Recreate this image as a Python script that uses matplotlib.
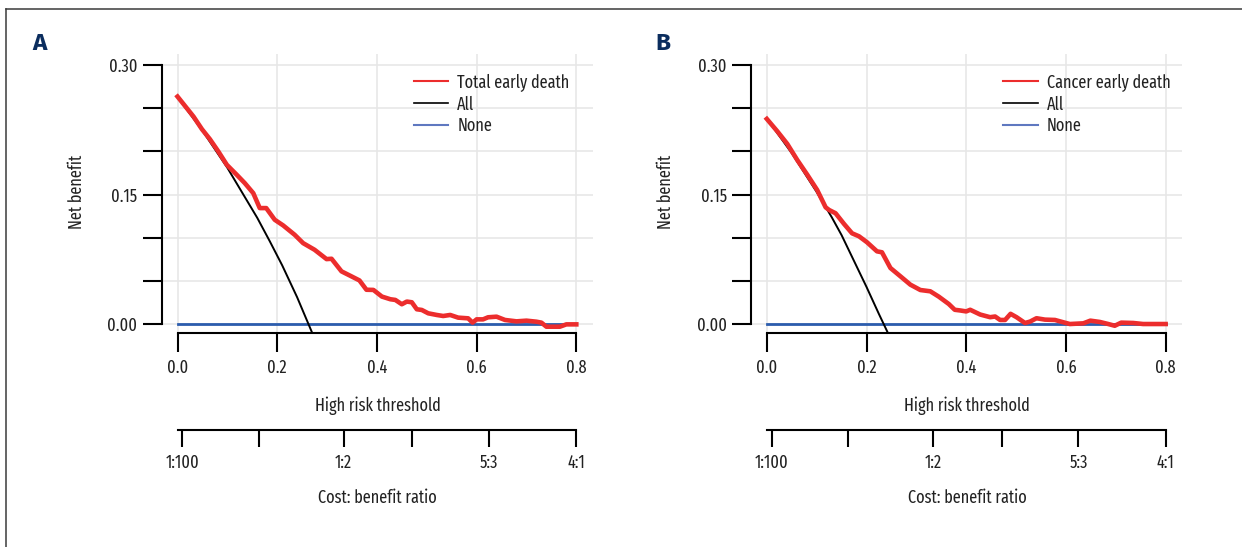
import matplotlib
matplotlib.use("Agg")
import matplotlib.pyplot as plt
from matplotlib.lines import Line2D

plt.rcParams["font.family"] = ["Fira Sans Extra Condensed", "Fira Sans Condensed", "DejaVu Sans"]
plt.rcParams["font.size"] = 12.7

# ---- data ----
thr_a = [0.0, 0.032, 0.049, 0.065, 0.082, 0.099, 0.119, 0.135, 0.152, 0.165,
         0.178, 0.195, 0.212, 0.235, 0.252, 0.275, 0.299, 0.309, 0.329, 0.349,
         0.365, 0.379, 0.393, 0.41, 0.427, 0.437, 0.45, 0.46, 0.47, 0.48,
         0.49, 0.503, 0.52, 0.533, 0.547, 0.563, 0.583, 0.592, 0.6, 0.613,
         0.623, 0.64, 0.657, 0.68, 0.7, 0.72, 0.73, 0.74, 0.767, 0.78, 0.8]
nb_a = [0.2635, 0.2404, 0.2257, 0.2141, 0.1998, 0.1844, 0.1728, 0.1632, 0.1516, 0.1343,
        0.1343, 0.1208, 0.1142, 0.1034, 0.0937, 0.0860, 0.0752, 0.0756, 0.0610, 0.0552,
        0.0505, 0.0397, 0.0395, 0.0318, 0.0287, 0.0279, 0.0229, 0.0260, 0.0252, 0.0171,
        0.0163, 0.0124, 0.0105, 0.0093, 0.0105, 0.0074, 0.0066, 0.0016, 0.0054, 0.0054,
        0.0078, 0.0085, 0.0047, 0.0031, 0.0039, 0.0027, 0.0016, -0.0031, -0.0031, -0.0004, -0.0004]
all_thr_a = [0.0, 0.05, 0.10, 0.13, 0.16, 0.185, 0.21, 0.24, 0.27]
all_nb_a = [0.263, 0.224, 0.181, 0.152, 0.123, 0.096, 0.068, 0.031, -0.010]

thr_b = [0.0, 0.021, 0.041, 0.061, 0.081, 0.101, 0.118, 0.125, 0.138, 0.155,
         0.171, 0.185, 0.201, 0.221, 0.231, 0.248, 0.268, 0.288, 0.308, 0.328,
         0.345, 0.365, 0.377, 0.388, 0.4, 0.408, 0.428, 0.448, 0.458, 0.468,
         0.478, 0.489, 0.501, 0.518, 0.528, 0.541, 0.558, 0.578, 0.595, 0.608,
         0.635, 0.649, 0.668, 0.685, 0.698, 0.711, 0.735, 0.755, 0.8]
nb_b = [0.2376, 0.2233, 0.2087, 0.1901, 0.1731, 0.1553, 0.1352, 0.1321, 0.1283, 0.1159,
        0.1051, 0.1016, 0.0947, 0.0842, 0.0831, 0.0649, 0.0553, 0.0456, 0.0394, 0.0379,
        0.0317, 0.0232, 0.0165, 0.0157, 0.0146, 0.0165, 0.0110, 0.0079, 0.0087, 0.0047,
        0.0047, 0.0118, 0.0079, 0.0012, 0.0028, 0.0067, 0.0051, 0.0047, 0.0020, 0.0,
        0.0008, 0.0039, 0.0024, 0.0, -0.0020, 0.0016, 0.0012, 0.0, 0.0]
all_thr_b = [0.0, 0.05, 0.10, 0.13, 0.15, 0.175, 0.20, 0.225, 0.243]
all_nb_b = [0.238, 0.198, 0.153, 0.124, 0.103, 0.073, 0.043, 0.0115, -0.0104]

none_thr = [0.0, 0.8]
none_nb = [0.0, 0.0]

x_ticks = [0.0, 0.2, 0.4, 0.6, 0.8]
y_ticks = [0.0, 0.05, 0.10, 0.15, 0.20, 0.25, 0.30]
y_labels = ["0.00", "", "", "0.15", "", "", "0.30"]
cb_ticks = [0.0099, 0.163, 0.333, 0.471, 0.625, 0.8]
cb_labels = ["1:100", "", "1:2", "", "5:3", "4:1"]

RED = "#ec2d2d"
BLUE = "#2b5cad"
NAVY = "#0b2d5e"
GRID = "#e6e6e6"
TXT = "#222222"


def draw_panel(ax, thr, nb, all_thr, all_nb, model_label):
    ax.set_xlim(-0.0317, 0.8335)
    ax.set_ylim(-0.0104, 0.3128)
    ax.set_xticks(x_ticks)
    ax.set_xticklabels([f"{t:.1f}" for t in x_ticks])
    ax.set_yticks(y_ticks)
    ax.set_yticklabels(y_labels)
    ax.grid(True, color=GRID, linewidth=1.1)
    ax.set_axisbelow(True)
    for s in ("top", "right"):
        ax.spines[s].set_visible(False)
    ax.spines["left"].set_bounds(0.0, 0.30)
    ax.spines["bottom"].set_bounds(0.0, 0.8)
    for s in ("left", "bottom"):
        ax.spines[s].set_linewidth(1.5)
    ax.tick_params(direction="out", length=13.5, width=1.5, pad=4, colors="black",
                   labelcolor=TXT)
    ax.tick_params(axis="x", pad=5)

    ax.plot(none_thr, none_nb, color=BLUE, lw=2.0, zorder=3)
    ax.plot(all_thr, all_nb, color="black", lw=1.4, zorder=3)
    ax.plot(thr, nb, color=RED, lw=3.3, zorder=4)

    handles = [Line2D([], [], color=RED, lw=1.5),
               Line2D([], [], color="black", lw=1.2),
               Line2D([], [], color="#5f78c0", lw=1.5)]
    ax.legend(handles, [model_label, "All", "None"], loc="upper left",
              bbox_to_anchor=(0.585, 0.93), frameon=False, borderpad=0,
              handlelength=1.95, handletextpad=0.5, labelspacing=0.22,
              borderaxespad=0, labelcolor=TXT)

    ax.text(-0.1964, 0.5054, "Net benefit", rotation=90, ha="center", va="center",
            transform=ax.transAxes, color=TXT)
    ax.text(0.5006, -0.2616, "High risk threshold", ha="center", va="center",
            transform=ax.transAxes, color=TXT)
    ax.text(0.5006, -0.5925, "Cost: benefit ratio", ha="center", va="center",
            transform=ax.transAxes, color=TXT)

    sec = ax.secondary_xaxis(-0.3477)
    sec.set_xticks(cb_ticks)
    sec.set_xticklabels(cb_labels)
    sec.spines["bottom"].set_bounds(0.0, 0.8)
    sec.spines["bottom"].set_linewidth(1.5)
    sec.tick_params(direction="out", length=12.3, width=1.5, pad=5, labelcolor=TXT)


fig = plt.figure(figsize=(12.42, 5.47), dpi=100)
H = 547.0
W = 1242.0
ax_a = fig.add_axes([161.7 / W, (H - 333) / H, 431.3 / W, 279 / H])
ax_b = fig.add_axes([751.0 / W, (H - 333) / H, 431.3 / W, 279 / H])

draw_panel(ax_a, thr_a, nb_a, all_thr_a, all_nb_a, "Total early death")
draw_panel(ax_b, thr_b, nb_b, all_thr_b, all_nb_b, "Cancer early death")

fig.text(40 / W, 1 - 43 / H, "A", ha="center", va="center", fontsize=17.5,
         fontweight="bold", color=NAVY, family=["Fira Sans", "DejaVu Sans"])
fig.text(663 / W, 1 - 43 / H, "B", ha="center", va="center", fontsize=17.5,
         fontweight="bold", color=NAVY, family=["Fira Sans", "DejaVu Sans"])

# outer frame (top and left edges only visible)
fig.add_artist(Line2D([6 / W, 1], [1 - 9 / H, 1 - 9 / H], color="#3a3a3a", lw=1.1))
fig.add_artist(Line2D([6 / W, 6 / W], [0, 1 - 9 / H], color="#3a3a3a", lw=1.1))

fig.savefig("out.png", dpi=100)
